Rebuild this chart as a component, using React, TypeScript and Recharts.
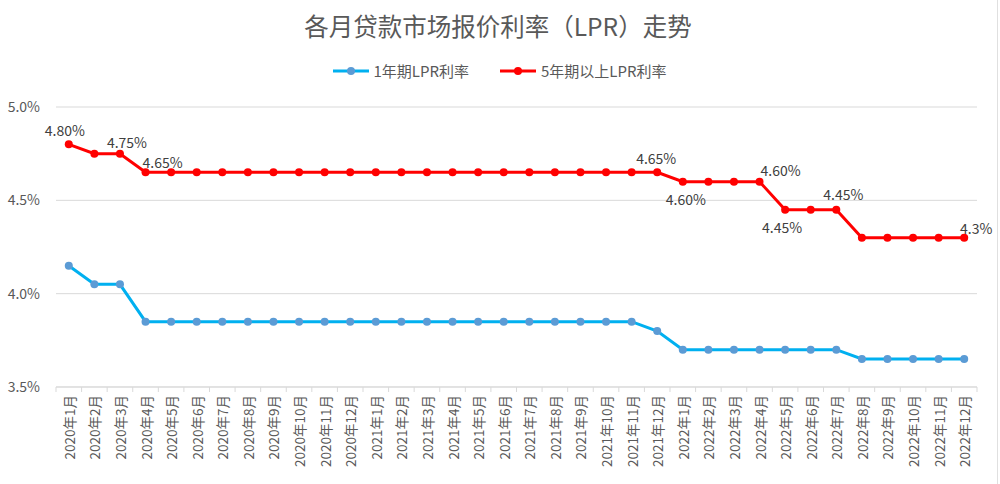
import { LineChart, Line, XAxis, YAxis, CartesianGrid, LabelList } from 'recharts';

const months = [
  '2020年1月', '2020年2月', '2020年3月', '2020年4月', '2020年5月', '2020年6月',
  '2020年7月', '2020年8月', '2020年9月', '2020年10月', '2020年11月', '2020年12月',
  '2021年1月', '2021年2月', '2021年3月', '2021年4月', '2021年5月', '2021年6月',
  '2021年7月', '2021年8月', '2021年9月', '2021年10月', '2021年11月', '2021年12月',
  '2022年1月', '2022年2月', '2022年3月', '2022年4月', '2022年5月', '2022年6月',
  '2022年7月', '2022年8月', '2022年9月', '2022年10月', '2022年11月', '2022年12月',
];

const oneYear = [
  4.15, 4.05, 4.05, 3.85, 3.85, 3.85, 3.85, 3.85, 3.85, 3.85, 3.85, 3.85,
  3.85, 3.85, 3.85, 3.85, 3.85, 3.85, 3.85, 3.85, 3.85, 3.85, 3.85, 3.80,
  3.70, 3.70, 3.70, 3.70, 3.70, 3.70, 3.70, 3.65, 3.65, 3.65, 3.65, 3.65,
];

const fiveYear = [
  4.80, 4.75, 4.75, 4.65, 4.65, 4.65, 4.65, 4.65, 4.65, 4.65, 4.65, 4.65,
  4.65, 4.65, 4.65, 4.65, 4.65, 4.65, 4.65, 4.65, 4.65, 4.65, 4.65, 4.65,
  4.60, 4.60, 4.60, 4.60, 4.45, 4.45, 4.45, 4.30, 4.30, 4.30, 4.30, 4.30,
];

const yTicks = [3.5, 4.0, 4.5, 5.0];

// data labels shown on the 5-year series (by month index)
const fiveYearLabels: Record<number, string> = {
  0: '4.80%', 2: '4.75%', 3: '4.65%', 23: '4.65%', 24: '4.60%',
  27: '4.60%', 28: '4.45%', 30: '4.45%', 35: '4.3%',
};

// label placement relative to the point (Excel-ish manual placement)
const labelOffsets: Record<number, [number, number]> = {
  0: [-4, -14], 2: [7, -12], 3: [17, -10], 23: [-1, -14], 24: [3, 17],
  27: [21, -12], 28: [-3, 17], 30: [7, -16], 35: [12, -10],
};

const data = months.map((m, i) => ({ month: m, oneYear: oneYear[i], fiveYear: fiveYear[i] }));

const FONT = '"Noto Sans CJK SC", "Noto Sans", sans-serif';
const TEXT = '#595959';
const GRID = '#d9d9d9';
const BLUE_LINE = '#00b0f0';
const BLUE_DOT = '#5b9bd5';
const RED = '#ff0000';

const PLOT_LEFT = 56;
const PLOT_RIGHT = 23;
const HALF_BAND = (1000 - PLOT_LEFT - PLOT_RIGHT) / months.length / 2;

const MonthTick = (props: any) => {
  const { x, y, payload, index } = props;
  return (
    <g>
      <line x1={x - HALF_BAND} x2={x - HALF_BAND} y1={y} y2={y + 5} stroke={GRID} />
      {index === months.length - 1 && (
        <line x1={x + HALF_BAND} x2={x + HALF_BAND} y1={y} y2={y + 5} stroke={GRID} />
      )}
      <text
        transform={`translate(${x},${y + 8}) rotate(-90)`}
        textAnchor="end"
        dominantBaseline="central"
        fontSize={13.5}
        fill={TEXT}
        fontFamily={FONT}
      >
        {payload.value}
      </text>
    </g>
  );
};

const FiveYearLabel = (props: any) => {
  const { x, y, index } = props;
  const text = fiveYearLabels[index];
  if (!text) return null;
  const [dx, dy] = labelOffsets[index];
  return (
    <text
      x={x + dx}
      y={y + dy}
      textAnchor="middle"
      dominantBaseline="central"
      fontSize={14}
      fill="#404040"
      fontFamily={FONT}
    >
      {text}
    </text>
  );
};

const LegendItem = ({ line, dot, label }: { line: string; dot: string; label: string }) => (
  <div style={{ display: 'flex', alignItems: 'center', gap: 4 }}>
    <svg width={38} height={10}>
      <line x1={1} x2={37} y1={5} y2={5} stroke={line} strokeWidth={3} />
      <circle cx={19} cy={5} r={4} fill={dot} />
    </svg>
    <span>{label}</span>
  </div>
);

export default function App() {
  return (
    <div style={{ position: 'absolute', left: 0, top: 0, width: 1000, height: 484, background: '#fff', fontFamily: FONT }}>
      <div style={{ position: 'absolute', top: 9, left: 0, width: 996, textAlign: 'center', fontSize: 24.5, color: TEXT, lineHeight: '34px' }}>
        各月贷款市场报价利率（LPR）走势
      </div>
      <div style={{ position: 'absolute', top: 60, left: 0, width: 998, display: 'flex', justifyContent: 'center', gap: 30, fontSize: 15, color: TEXT, lineHeight: '22px' }}>
        <LegendItem line={BLUE_LINE} dot={BLUE_DOT} label="1年期LPR利率" />
        <LegendItem line={RED} dot={RED} label="5年期以上LPR利率" />
      </div>
      <div style={{ position: 'absolute', left: 997, top: 0, width: 1, height: 484, background: '#e0e0e0' }} />
      <LineChart width={1000} height={484} data={data} margin={{ top: 107, right: PLOT_RIGHT, bottom: 0, left: 0 }}>
        <CartesianGrid vertical={false} stroke={GRID} />
        <XAxis
          dataKey="month"
          interval={0}
          height={97}
          padding={{ left: HALF_BAND, right: HALF_BAND }}
          axisLine={{ stroke: GRID }}
          tickLine={false}
          tickSize={0}
          tickMargin={0}
          tick={<MonthTick />}
        />
        <YAxis
          width={PLOT_LEFT}
          domain={[3.5, 5.0]}
          ticks={yTicks}
          axisLine={false}
          tickLine={false}
          tickSize={0}
          tickMargin={16}
          tick={{ fontSize: 14, fill: TEXT, fontFamily: FONT }}
          tickFormatter={(v: number) => `${v.toFixed(1)}%`}
        />
        <Line
          type="linear"
          dataKey="oneYear"
          stroke={BLUE_LINE}
          strokeWidth={3}
          dot={{ r: 4, fill: BLUE_DOT, stroke: BLUE_DOT, strokeWidth: 0 }}
          activeDot={false}
          isAnimationActive={false}
        />
        <Line
          type="linear"
          dataKey="fiveYear"
          stroke={RED}
          strokeWidth={3}
          dot={{ r: 4, fill: RED, stroke: RED, strokeWidth: 0 }}
          activeDot={false}
          isAnimationActive={false}
        >
          <LabelList dataKey="fiveYear" content={<FiveYearLabel />} />
        </Line>
      </LineChart>
    </div>
  );
}
